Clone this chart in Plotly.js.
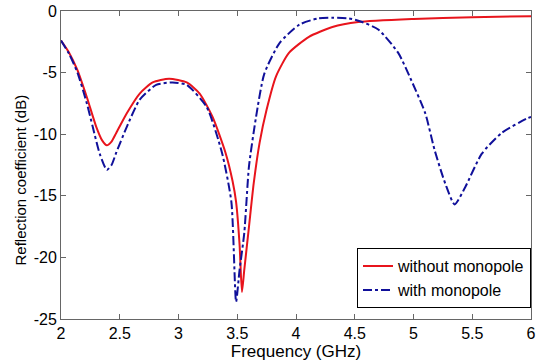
<!DOCTYPE html>
<html>
<head>
<meta charset="utf-8">
<script src="https://cdn.plot.ly/plotly-3.0.1.min.js"></script>
<style>html,body{margin:0;padding:0;background:#fff;}#chart{width:536px;height:364px;}</style>
</head>
<body>
<div id="chart"></div>
<script>
const freqWithout = [2.00,2.07,2.14,2.22,2.30,2.35,2.39,2.43,2.47,2.56,2.67,2.78,2.92,3.07,3.18,3.29,3.40,3.46,3.49,3.52,3.54,3.56,3.60,3.64,3.69,3.75,3.83,3.94,4.11,4.31,4.53,5.00,5.50,6.00];
const s11Without  = [-2.4,-3.4,-4.8,-7.0,-9.4,-10.5,-10.9,-10.6,-9.9,-8.3,-6.7,-5.8,-5.5,-5.8,-6.7,-8.6,-11.5,-13.8,-15.5,-19.0,-22.8,-21.0,-17.5,-14.0,-10.7,-8.0,-5.3,-3.4,-2.1,-1.3,-0.9,-0.65,-0.5,-0.42];
const freqWith = [2.00,2.07,2.14,2.22,2.27,2.33,2.39,2.43,2.47,2.56,2.67,2.81,2.95,3.07,3.24,3.37,3.45,3.49,3.52,3.56,3.60,3.66,3.73,3.86,4.03,4.19,4.31,4.45,4.55,4.70,4.87,4.98,5.10,5.18,5.27,5.35,5.44,5.58,5.75,5.97,6.00];
const s11With  = [-2.4,-3.5,-5.0,-7.5,-9.4,-11.6,-12.9,-12.5,-11.5,-9.4,-7.2,-6.0,-5.8,-6.0,-7.8,-11.5,-15.5,-23.6,-21.0,-18.0,-12.6,-8.6,-5.1,-2.6,-1.1,-0.6,-0.55,-0.6,-0.85,-1.5,-3.4,-5.6,-8.3,-11.3,-14.0,-15.7,-14.3,-11.6,-9.9,-8.7,-8.6];
const xTicks = [2,2.5,3,3.5,4,4.5,5,5.5,6];
const xTickText = ["2","2.5","3","3.5","4","4.5","5","5.5","6"];
const yTicks = [-25,-20,-15,-10,-5,0];
const yTickText = ["-25","-20","-15","-10","-5","0"];
const xTitle = 'Frequency (GHz)';
const yTitle = 'Reflection coefficient (dB)';

const FONT = 'Liberation Sans, Arial, sans-serif';
const traces = [
  {x: freqWithout, y: s11Without, mode: 'lines', name: 'without monopole',
   line: {color: '#e8141c', width: 2, shape: 'spline', smoothing: 0.6}},
  {x: freqWith, y: s11With, mode: 'lines', name: 'with monopole',
   line: {color: '#10109a', width: 2, dash: 'dashdot', shape: 'spline', smoothing: 0.6}}
];
const axisCommon = {
  showline: true, linecolor: '#666', linewidth: 1, mirror: 'ticks',
  ticks: 'inside', ticklen: 5, tickcolor: '#666', showgrid: false, zeroline: false,
  ticklabeloverflow: 'allow',
  tickfont: {family: FONT, size: 16, color: '#000'}
};
const layout = {
  width: 536, height: 364,
  margin: {l: 61, r: 5, t: 11, b: 45},
  paper_bgcolor: '#fff', plot_bgcolor: '#fff',
  showlegend: true,
  legend: {x: 1, xanchor: 'right', y: 0.035, yanchor: 'bottom',
    bordercolor: '#000', borderwidth: 1, bgcolor: '#fff',
    font: {family: FONT, size: 16, color: '#000'},
    tracegroupgap: 0, itemwidth: 30},
  xaxis: Object.assign({}, axisCommon, {range: [2, 6], tickvals: xTicks, ticktext: xTickText,
    title: {text: xTitle, standoff: 0, font: {family: FONT, size: 17, color: '#000'}}}),
  yaxis: Object.assign({}, axisCommon, {range: [-25, 0], tickvals: yTicks, ticktext: yTickText}),
  annotations: [{
    text: yTitle, xref: 'paper', yref: 'paper', x: -0.087, y: 0.45,
    xanchor: 'center', yanchor: 'middle', textangle: -90, showarrow: false,
    font: {family: FONT, size: 15, color: '#000'}
  }]
};
Plotly.newPlot('chart', traces, layout, {displayModeBar: false, staticPlot: true});
</script>
</body>
</html>
